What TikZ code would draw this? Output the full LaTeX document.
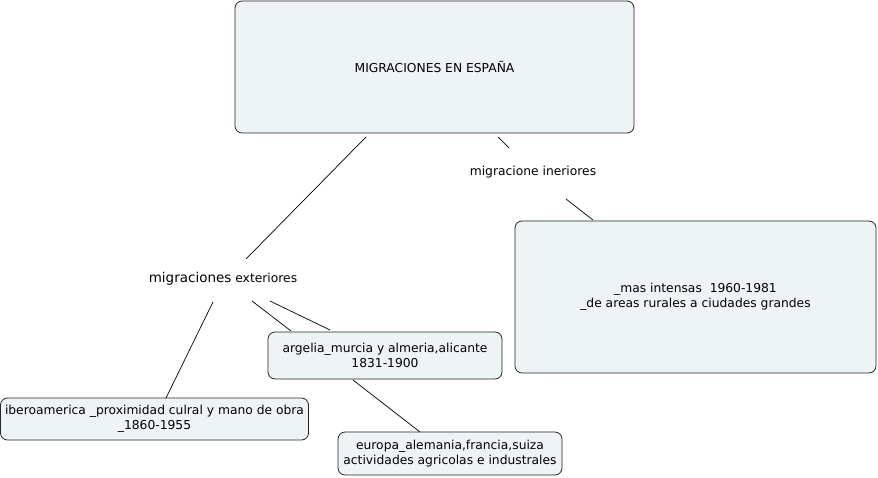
\documentclass[tikz,border=0pt]{standalone}
\usepackage{fontspec}
\setmainfont{DejaVu Sans}
\begin{document}
\begin{tikzpicture}[x=1pt,y=-1pt,
  box/.style={draw=black!85,fill=boxfill,rounded corners=7pt,line width=0.8pt,inner sep=0pt,align=center,font=\fontsize{12.3}{15}\selectfont},
  lbl/.style={inner sep=0pt,font=\fontsize{12.3}{15}\selectfont},
  link/.style={draw=black,line width=0.7pt}]
\definecolor{boxfill}{HTML}{EEF4F6}
\useasboundingbox (0,0) rectangle (878,478);
\node[box,minimum width=399pt,minimum height=132pt] (main) at (434.5,67) {MIGRACIONES EN ESPAÑA};
\node[box,minimum width=361pt,minimum height=152pt] (interior) at (695.5,297) {\_mas intensas\ \ 1960-1981\\\_de areas rurales a ciudades grandes};
\node[box,minimum width=234pt,minimum height=47pt] (argelia) at (385,355.5) {argelia\_murcia y almeria,alicante\\1831-1900};
\node[box,minimum width=308pt,minimum height=42pt] (ibero) at (154.5,419) {iberoamerica \_proximidad culral y mano de obra\\\_1860-1955};
\node[box,minimum width=224pt,minimum height=43pt] (europa) at (450,453.5) {europa\_alemania,francia,suiza\\actividades agricolas e industrales};
\node[lbl] (int) at (533,172) {migracione ineriores};
\node[lbl] (ext) at (223,279) {{\fontsize{13.5}{15}\selectfont migraciones} exteriores};
\coordinate (m1) at (366,137); \coordinate (e1) at (246,259);
\coordinate (m2) at (498,137); \coordinate (i1) at (509,148);
\coordinate (i2) at (566,199); \coordinate (r1) at (593,220);
\coordinate (e2) at (252,301); \coordinate (a1) at (291,331);
\coordinate (e3) at (270,301); \coordinate (a2) at (330,330);
\coordinate (e4) at (213,302); \coordinate (b1) at (166,398);
\coordinate (a3) at (353,380); \coordinate (u1) at (420,432);
\draw[link] (m1) -- (e1);
\draw[link] (m2) -- (i1);
\draw[link] (i2) -- (r1);
\draw[link] (e2) -- (a1);
\draw[link] (e3) -- (a2);
\draw[link] (e4) -- (b1);
\draw[link] (a3) -- (u1);
\end{tikzpicture}
\end{document}
